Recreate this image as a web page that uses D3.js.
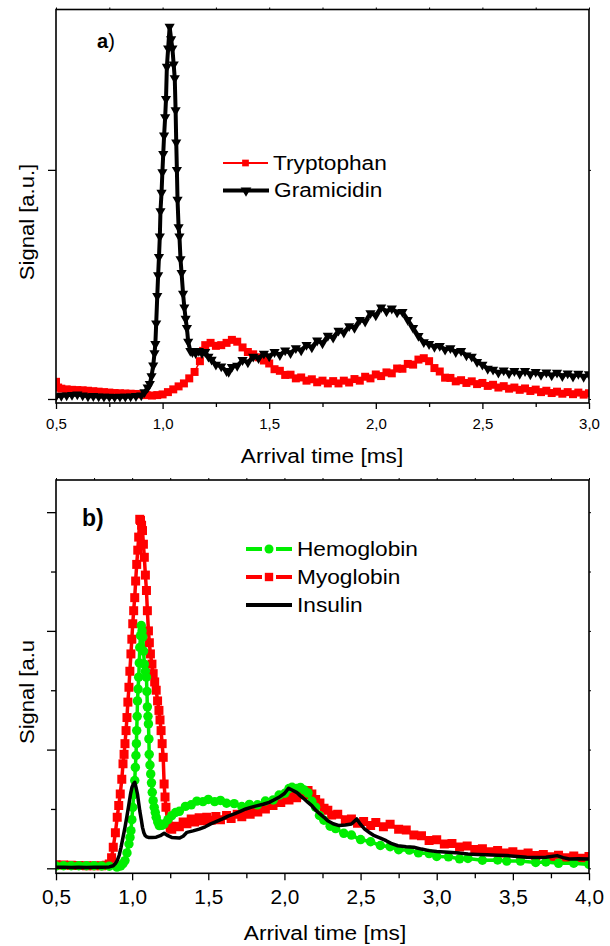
<!DOCTYPE html>
<html><head><meta charset="utf-8">
<script src="https://cdnjs.cloudflare.com/ajax/libs/d3/7.8.5/d3.min.js"></script>
<style>body{margin:0;background:#fff}svg{display:block}text{font-family:"Liberation Sans",Arial,sans-serif;fill:#000}</style>
</head><body><svg id="c" width="610" height="946"></svg>
<script>
// ---- Panel a data ----
const ticksA = [0.5, 1.0, 1.5, 2.0, 2.5, 3.0];
const tryptophan = [[0.50,0.075],[0.51,0.05],[0.525,0.045],[0.55,0.042],[0.575,0.04],[0.60,0.039],[0.625,0.038],[0.65,0.036],[0.675,0.034],[0.70,0.032],[0.725,0.03],[0.75,0.028],[0.775,0.026],[0.80,0.025],[0.825,0.024],[0.85,0.023],[0.875,0.022],[0.90,0.02],[0.925,0.017],[0.95,0.015],[0.975,0.017],[1.00,0.02],[1.025,0.03],[1.05,0.042],[1.075,0.055],[1.10,0.068],[1.125,0.09],[1.15,0.118],[1.175,0.165],[1.19,0.21],[1.20,0.235],[1.225,0.245],[1.25,0.232],[1.275,0.235],[1.30,0.245],[1.325,0.258],[1.35,0.25],[1.375,0.225],[1.40,0.205],[1.425,0.195],[1.45,0.182],[1.475,0.168],[1.50,0.155],[1.525,0.13],[1.55,0.123],[1.575,0.105],[1.60,0.106],[1.625,0.09],[1.65,0.094],[1.675,0.08],[1.70,0.086],[1.725,0.073],[1.75,0.08],[1.775,0.068],[1.80,0.078],[1.825,0.068],[1.85,0.08],[1.875,0.072],[1.90,0.087],[1.925,0.08],[1.95,0.097],[1.975,0.09],[2.00,0.107],[2.025,0.1],[2.05,0.116],[2.075,0.112],[2.10,0.133],[2.125,0.132],[2.15,0.153],[2.175,0.15],[2.20,0.172],[2.225,0.178],[2.25,0.165],[2.275,0.135],[2.30,0.12],[2.325,0.093],[2.35,0.092],[2.375,0.077],[2.40,0.082],[2.425,0.07],[2.45,0.077],[2.475,0.065],[2.50,0.07],[2.525,0.057],[2.55,0.062],[2.575,0.05],[2.60,0.056],[2.625,0.045],[2.65,0.05],[2.675,0.04],[2.70,0.046],[2.725,0.035],[2.75,0.041],[2.775,0.03],[2.80,0.036],[2.825,0.026],[2.85,0.032],[2.875,0.023],[2.90,0.03],[2.925,0.021],[2.95,0.028],[2.975,0.019],[3.00,0.025]];
const gramicidin = [[0.50,0.012],[0.525,0.014],[0.55,0.016],[0.575,0.018],[0.60,0.02],[0.625,0.016],[0.65,0.012],[0.675,0.013],[0.70,0.011],[0.725,0.01],[0.75,0.01],[0.775,0.009],[0.80,0.01],[0.825,0.01],[0.85,0.011],[0.875,0.013],[0.90,0.016],[0.915,0.03],[0.93,0.05],[0.94,0.066],[0.948,0.1],[0.956,0.146],[0.962,0.2],[0.966,0.24],[0.97,0.33],[0.975,0.45],[0.979,0.54],[0.983,0.62],[0.987,0.71],[0.99,0.82],[0.995,0.9],[0.999,0.99],[1.003,1.07],[1.007,1.15],[1.012,1.23],[1.016,1.31],[1.02,1.45],[1.026,1.53],[1.033,1.625],[1.04,1.57],[1.046,1.53],[1.052,1.46],[1.057,1.40],[1.061,1.26],[1.064,1.12],[1.067,1.0],[1.07,0.87],[1.075,0.75],[1.079,0.71],[1.084,0.61],[1.089,0.55],[1.096,0.46],[1.102,0.40],[1.108,0.35],[1.114,0.31],[1.12,0.25],[1.13,0.21],[1.14,0.205],[1.155,0.2],[1.17,0.21],[1.185,0.2],[1.20,0.205],[1.215,0.185],[1.23,0.172],[1.25,0.15],[1.275,0.142],[1.30,0.122],[1.31,0.118],[1.325,0.14],[1.35,0.145],[1.375,0.17],[1.40,0.16],[1.425,0.185],[1.45,0.178],[1.475,0.198],[1.50,0.186],[1.525,0.205],[1.55,0.192],[1.575,0.212],[1.60,0.2],[1.625,0.222],[1.65,0.212],[1.675,0.236],[1.70,0.225],[1.725,0.255],[1.75,0.243],[1.775,0.276],[1.80,0.268],[1.825,0.298],[1.85,0.29],[1.875,0.318],[1.90,0.31],[1.925,0.345],[1.95,0.338],[1.975,0.375],[2.00,0.365],[2.025,0.4],[2.05,0.382],[2.075,0.395],[2.10,0.378],[2.125,0.38],[2.15,0.345],[2.175,0.31],[2.20,0.275],[2.225,0.248],[2.25,0.24],[2.275,0.228],[2.30,0.232],[2.325,0.215],[2.35,0.222],[2.375,0.205],[2.40,0.21],[2.425,0.19],[2.45,0.185],[2.475,0.162],[2.50,0.15],[2.525,0.132],[2.55,0.128],[2.575,0.115],[2.60,0.125],[2.625,0.112],[2.65,0.122],[2.675,0.11],[2.70,0.122],[2.725,0.108],[2.75,0.118],[2.775,0.105],[2.80,0.116],[2.825,0.103],[2.85,0.115],[2.875,0.1],[2.90,0.112],[2.925,0.098],[2.95,0.11],[2.975,0.097],[3.00,0.108]];

// ---- Panel b data ----
const ticksB = [0.5, 1.0, 1.5, 2.0, 2.5, 3.0, 3.5, 4.0];
const myoglobin = [[0.50,0.03],[0.55,0.028],[0.60,0.025],[0.65,0.024],[0.70,0.022],[0.75,0.022],[0.80,0.022],[0.83,0.025],[0.85,0.036],[0.865,0.09],[0.876,0.177],[0.89,0.30],[0.902,0.43],[0.912,0.53],[0.922,0.626],[0.932,0.75],[0.94,0.88],[0.947,0.96],[0.953,1.05],[0.96,1.16],[0.966,1.27],[0.972,1.40],[0.979,1.525],[0.985,1.66],[0.992,1.806],[0.998,1.93],[1.004,2.06],[1.01,2.17],[1.017,2.28],[1.023,2.42],[1.03,2.56],[1.037,2.68],[1.043,2.79],[1.05,2.94],[1.055,2.93],[1.062,2.89],[1.068,2.845],[1.074,2.73],[1.08,2.62],[1.087,2.47],[1.094,2.34],[1.10,2.17],[1.107,2.0],[1.113,1.90],[1.12,1.806],[1.13,1.72],[1.138,1.64],[1.148,1.57],[1.158,1.50],[1.167,1.41],[1.176,1.33],[1.183,1.25],[1.19,1.16],[1.197,1.05],[1.204,0.935],[1.21,0.71],[1.216,0.6],[1.222,0.514],[1.235,0.374],[1.25,0.34],[1.26,0.33],[1.285,0.355],[1.31,0.35],[1.335,0.39],[1.36,0.375],[1.388,0.415],[1.41,0.39],[1.44,0.425],[1.465,0.4],[1.49,0.43],[1.52,0.405],[1.55,0.437],[1.58,0.41],[1.62,0.445],[1.65,0.42],[1.69,0.455],[1.72,0.435],[1.746,0.472],[1.775,0.455],[1.80,0.495],[1.825,0.475],[1.85,0.515],[1.875,0.5],[1.90,0.545],[1.925,0.53],[1.95,0.57],[1.976,0.555],[2.00,0.595],[2.03,0.575],[2.055,0.615],[2.08,0.595],[2.105,0.64],[2.13,0.62],[2.155,0.655],[2.18,0.625],[2.205,0.58],[2.233,0.55],[2.26,0.505],[2.285,0.49],[2.31,0.45],[2.35,0.455],[2.40,0.41],[2.44,0.415],[2.48,0.38],[2.52,0.395],[2.566,0.36],[2.60,0.385],[2.65,0.35],[2.694,0.372],[2.75,0.33],[2.80,0.322],[2.85,0.28],[2.90,0.275],[2.95,0.235],[3.00,0.24],[3.05,0.205],[3.10,0.21],[3.15,0.18],[3.20,0.187],[3.25,0.158],[3.30,0.165],[3.35,0.14],[3.40,0.15],[3.45,0.128],[3.50,0.14],[3.55,0.118],[3.60,0.13],[3.65,0.108],[3.70,0.117],[3.75,0.097],[3.80,0.11],[3.85,0.088],[3.90,0.103],[3.95,0.085],[4.00,0.1]];
const hemoglobin = [[0.50,0.02],[0.55,0.022],[0.60,0.022],[0.65,0.022],[0.70,0.022],[0.75,0.022],[0.80,0.02],[0.85,0.018],[0.90,0.01],[0.925,0.02],[0.94,0.04],[0.953,0.065],[0.966,0.13],[0.979,0.205],[0.986,0.26],[0.992,0.317],[0.998,0.41],[1.004,0.514],[1.01,0.62],[1.017,0.74],[1.021,0.85],[1.025,0.95],[1.028,1.05],[1.03,1.16],[1.033,1.28],[1.035,1.41],[1.039,1.51],[1.043,1.61],[1.047,1.73],[1.05,1.86],[1.055,1.96],[1.06,2.045],[1.065,2.0],[1.07,1.95],[1.075,1.83],[1.08,1.72],[1.087,1.66],[1.094,1.61],[1.097,1.49],[1.10,1.36],[1.104,1.28],[1.107,1.216],[1.11,1.09],[1.112,0.96],[1.117,0.87],[1.122,0.795],[1.127,0.72],[1.132,0.64],[1.138,0.57],[1.145,0.514],[1.152,0.47],[1.158,0.43],[1.168,0.39],[1.178,0.36],[1.195,0.362],[1.21,0.374],[1.235,0.41],[1.26,0.444],[1.285,0.47],[1.31,0.48],[1.35,0.522],[1.388,0.535],[1.425,0.566],[1.465,0.562],[1.50,0.58],[1.542,0.562],[1.58,0.572],[1.62,0.548],[1.67,0.545],[1.72,0.52],[1.77,0.538],[1.823,0.535],[1.875,0.567],[1.926,0.576],[1.965,0.617],[2.003,0.632],[2.03,0.672],[2.05,0.683],[2.08,0.672],[2.105,0.682],[2.13,0.66],[2.155,0.635],[2.18,0.565],[2.205,0.515],[2.23,0.445],[2.259,0.405],[2.30,0.355],[2.336,0.335],[2.39,0.295],[2.44,0.28],[2.50,0.242],[2.566,0.224],[2.63,0.192],[2.694,0.182],[2.75,0.157],[2.82,0.153],[2.88,0.13],[2.95,0.124],[3.00,0.1],[3.077,0.097],[3.15,0.08],[3.205,0.083],[3.30,0.068],[3.40,0.07],[3.46,0.061],[3.55,0.061],[3.65,0.049],[3.717,0.053],[3.80,0.042],[3.90,0.043],[4.00,0.033]];
const insulin = [[0.50,0.008],[0.55,0.01],[0.60,0.006],[0.65,0.008],[0.70,0.007],[0.75,0.008],[0.80,0.008],[0.85,0.012],[0.876,0.022],[0.89,0.04],[0.902,0.065],[0.915,0.11],[0.927,0.177],[0.94,0.26],[0.953,0.345],[0.966,0.44],[0.979,0.542],[0.99,0.63],[0.999,0.683],[1.008,0.71],[1.017,0.725],[1.026,0.68],[1.035,0.626],[1.043,0.55],[1.05,0.486],[1.06,0.41],[1.068,0.345],[1.077,0.30],[1.086,0.275],[1.096,0.265],[1.107,0.26],[1.13,0.26],[1.158,0.262],[1.185,0.275],[1.21,0.295],[1.235,0.275],[1.26,0.26],[1.285,0.258],[1.31,0.255],[1.335,0.27],[1.36,0.303],[1.40,0.315],[1.44,0.33],[1.48,0.35],[1.516,0.374],[1.555,0.395],[1.593,0.416],[1.63,0.44],[1.67,0.458],[1.71,0.48],[1.746,0.50],[1.785,0.515],[1.823,0.528],[1.86,0.54],[1.90,0.556],[1.93,0.575],[1.964,0.598],[2.00,0.63],[2.028,0.675],[2.05,0.66],[2.08,0.64],[2.105,0.61],[2.13,0.584],[2.155,0.555],[2.18,0.528],[2.205,0.49],[2.233,0.458],[2.26,0.43],[2.284,0.40],[2.32,0.375],[2.36,0.36],[2.40,0.365],[2.44,0.374],[2.475,0.416],[2.50,0.37],[2.527,0.33],[2.56,0.30],[2.59,0.275],[2.63,0.255],[2.668,0.233],[2.70,0.21],[2.745,0.19],[2.80,0.182],[2.85,0.177],[2.90,0.162],[2.95,0.149],[3.00,0.142],[3.077,0.135],[3.15,0.128],[3.205,0.12],[3.27,0.117],[3.33,0.115],[3.40,0.11],[3.46,0.107],[3.53,0.1],[3.59,0.093],[3.65,0.092],[3.717,0.093],[3.79,0.107],[3.83,0.09],[3.87,0.079],[3.93,0.08],[4.00,0.079]];

const RED = "#ff0000", GREEN = "#00ee00", BLACK = "#000000";
const svg = d3.select("#c");
const loc = d3.formatLocale({decimal:",", thousands:".", grouping:[3], currency:["",""]});
const fmt = loc.format(".1f");

function txt(parent, x, y, size, str, anchor, sx, rot){
  const t = parent.append("text")
    .attr("transform", `translate(${x},${y})${rot ? ` rotate(${rot})` : ""} scale(${sx},1)`)
    .attr("font-size", size).attr("text-anchor", anchor || "start").text(str);
  return t;
}

function panel(o){
  const g = svg.append("g");
  const x = d3.scaleLinear().domain(o.xd).range([o.left, o.right]);
  const y = d3.scaleLinear().domain(o.yd).range([o.bottom, o.top]);
  const cid = "clip" + o.id;
  svg.append("defs").append("clipPath").attr("id", cid).append("rect")
    .attr("x", o.left).attr("y", o.top).attr("width", o.right - o.left).attr("height", o.bottom - o.top);
  const plot = g.append("g").attr("clip-path", `url(#${cid})`);
  o.series.forEach(s => {
    const line = d3.line().x(d => x(d[0])).y(d => y(d[1]));
    plot.append("path").datum(s.data).attr("d", line).attr("fill", "none")
      .attr("stroke", s.color).attr("stroke-width", s.lw).attr("stroke-linejoin", "round");
    if (s.marker) {
      const sym = d3.symbol().type(s.marker).size(s.msize);
      plot.append("g").selectAll("path").data(s.data).join("path")
        .attr("d", sym).attr("fill", s.color)
        .attr("transform", d => `translate(${x(d[0])},${y(d[1])})${s.marker === d3.symbolTriangle ? " rotate(180)" : ""}`);
    }
  });
  const minor = [];
  for (let i = 0; i < o.ticks.length - 1; i++) minor.push((o.ticks[i] + o.ticks[i+1]) / 2);
  const ax = g.append("g").attr("transform", `translate(0,${o.bottom})`)
    .call(d3.axisBottom(x).tickValues(o.ticks).tickFormat(fmt).tickSize(o.majT).tickPadding(o.pad));
  ax.select(".domain").remove();
  ax.selectAll("text").attr("font-size", o.tickFs).style("font-family", '"Liberation Sans",Arial,sans-serif')
    .attr("transform", `scale(${o.tickSx},1)`).attr("x", function(){ return 0; });
  ax.selectAll("line").attr("stroke-width", 1.3);
  const axm = g.append("g").attr("transform", `translate(0,${o.bottom})`)
    .call(d3.axisBottom(x).tickValues(minor).tickFormat("").tickSize(o.minT));
  axm.select(".domain").remove(); axm.selectAll("line").attr("stroke-width", 1.3);
  const at = g.append("g").attr("transform", `translate(0,${o.top})`)
    .call(d3.axisTop(x).tickValues(o.ticks.concat(minor)).tickFormat("").tickSize(2));
  at.select(".domain").remove();
  const al = g.append("g").attr("transform", `translate(${o.left},0)`)
    .call(d3.axisLeft(y).tickValues(o.yMaj).tickFormat("").tickSize(o.yMajT));
  al.select(".domain").remove(); al.selectAll("line").attr("stroke-width", 1.3);
  if (o.yMin.length) {
    const al2 = g.append("g").attr("transform", `translate(${o.left},0)`)
      .call(d3.axisLeft(y).tickValues(o.yMin).tickFormat("").tickSize(o.yMinT));
    al2.select(".domain").remove(); al2.selectAll("line").attr("stroke-width", 1.3);
  }
  const ar = g.append("g").attr("transform", `translate(${o.right},0)`)
    .call(d3.axisRight(y).tickValues(o.yMaj.concat(o.yMin)).tickFormat("").tickSize(2));
  ar.select(".domain").remove();
  g.append("rect").attr("x", o.left).attr("y", o.top).attr("width", o.right - o.left)
    .attr("height", o.bottom - o.top).attr("fill", "none").attr("stroke", "#000").attr("stroke-width", 1.6);
  txt(g, o.xtX, o.xtY, o.titleFs, "Arrival time [ms]", "middle", 1.08);
  txt(g, o.ytX, o.ytY, o.titleFs, o.ytitle, "middle", 1.05, -90);
  return {g, x, y};
}

panel({id:"a", left:56, right:589, top:9.5, bottom:403, xd:[0.5,3.0], yd:[-0.0175,1.70],
  ticks: ticksA, majT:6, minT:4, pad:9, tickFs:15, tickSx:1.0, yMaj:[0,1], yMin:[], yMajT:8, yMinT:4,
  xtX:322, xtY:463, ytX:34, ytY:222, titleFs:21, ytitle:"Signal [a.u.]",
  series:[
    {data:tryptophan, color:RED, lw:1.5, marker:d3.symbolSquare, msize:64},
    {data:gramicidin, color:BLACK, lw:4, marker:d3.symbolTriangle, msize:45}
  ]});
panel({id:"b", left:56, right:589, top:480, bottom:873.3, xd:[0.5,4.0], yd:[-0.042,3.271],
  ticks: ticksB, majT:7, minT:5, pad:10, tickFs:20, tickSx:1.04, yMaj:[0,1,2,3], yMin:[0.5,1.5,2.5], yMajT:9, yMinT:5,
  xtX:325, xtY:940, ytX:34, ytY:692, titleFs:21, ytitle:"Signal [a.u",
  series:[
    {data:myoglobin, color:RED, lw:3.5, marker:d3.symbolSquare, msize:81},
    {data:hemoglobin, color:GREEN, lw:3.5, marker:d3.symbolCircle, msize:70},
    {data:insulin, color:BLACK, lw:3.5, marker:null}
  ]});

const la = svg.append("text").attr("x", 97).attr("y", 48).attr("font-size", 20);
la.append("tspan").attr("font-weight", "bold").text("a");
la.append("tspan").text(")");
svg.append("text").attr("x", 82).attr("y", 526).attr("font-size", 23).attr("font-weight", "bold").text("b)");

function legendItem(x0, x1, yy, color, lw, marker, msize, label, gap){
  const mid = (x0 + x1) / 2;
  if (gap) {
    svg.append("line").attr("x1", x0).attr("x2", mid - gap).attr("y1", yy).attr("y2", yy).attr("stroke", color).attr("stroke-width", lw);
    svg.append("line").attr("x1", mid + gap).attr("x2", x1).attr("y1", yy).attr("y2", yy).attr("stroke", color).attr("stroke-width", lw);
  } else {
    svg.append("line").attr("x1", x0).attr("x2", x1).attr("y1", yy).attr("y2", yy).attr("stroke", color).attr("stroke-width", lw);
  }
  if (marker) {
    svg.append("path").attr("d", d3.symbol().type(marker).size(msize)())
      .attr("fill", color)
      .attr("transform", `translate(${mid},${yy})${marker === d3.symbolTriangle ? " rotate(180)" : ""}`);
  }
  txt(svg, x1 + 5, yy + 6.5, 21, label, "start", 1.08);
}
legendItem(223, 268, 163, RED, 2, d3.symbolSquare, 45, "Tryptophan", 0);
legendItem(223, 269, 190.5, BLACK, 4, d3.symbolTriangle, 50, "Gramicidin", 0);
legendItem(246, 292, 549, GREEN, 4, d3.symbolCircle, 64, "Hemoglobin", 7);
legendItem(246, 292, 577, RED, 4, d3.symbolSquare, 70, "Myoglobin", 7);
legendItem(246, 292, 605, BLACK, 4, null, 0, "Insulin", 0);
</script></body></html>
